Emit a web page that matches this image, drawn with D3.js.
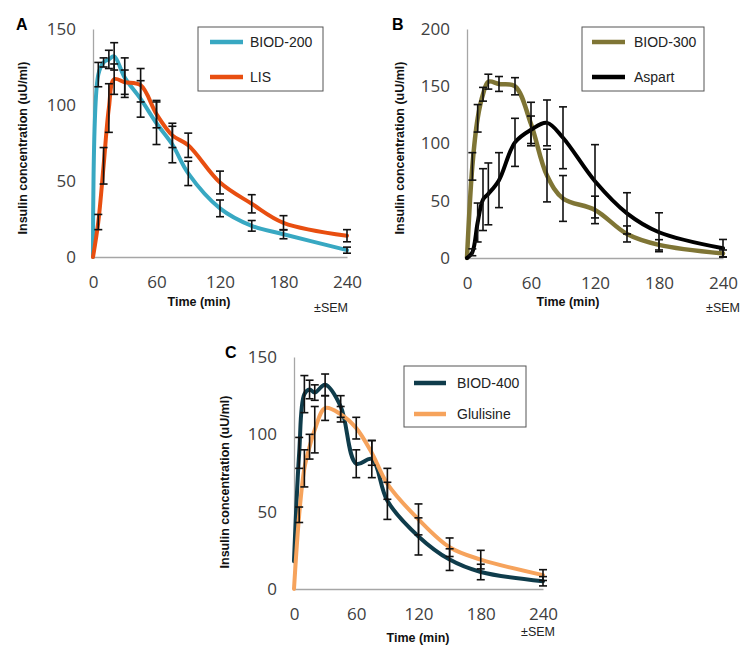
<!DOCTYPE html>
<html><head><meta charset="utf-8">
<script src="https://cdn.jsdelivr.net/npm/d3@7"></script>
<style>body{margin:0;background:#fff}</style>
</head><body>
<svg id="chart" width="748" height="657"></svg>
<script>
// ---------- data ----------
const times = [0,5,10,15,20,30,45,60,75,90,120,150,180,240];
const xTicks = [0,60,120,180,240];
const yTicksA = [0,50,100,150];
const yTicksB = [0,50,100,150,200];
const yTicksC = [0,50,100,150];

// Panel A
const biod200Mean = [0,120,128,130,132,118,104,88,74,55,32,20.5,15,4.5];
const biod200Sem  = [0,8,3,6,9,13,12,14,12,8,5.5,3.5,3,2];
const lisMean     = [0,23,60,98,117,115,113,94,80,73.5,49,35,22.5,14];
const lisSem      = [0,5,12,16,10,8,11,9,8,8,7.5,6,4.7,4];
// Panel B
const biod300Mean = [0,80,122,143,154,152,150,117,72,52,42,21,11.5,4];
const biod300Sem  = [0,12,12,6,6.5,6.5,7.5,19,23,20,12,7,4.5,3];
const aspartMean  = [0,5,31,51,56,68,101,112,118,105,67,39,22.5,8.5];
const aspartSem   = [0,3,17,27,27,24,21,12,20,27,32,18,17,7.7];
// Panel C
const biod400Mean   = [18,88,126,129,127,132,118,81,84,57,34,19,11,5];
const biod400Sem    = [0,10,12,6,5,7,7,9,12,12,12,7,5,3];
const glulisineMean = [0,48,78,92,103,117,113,104,88,68,45,27,19,9];
const glulisineSem  = [0,5,12,8,15,8,5,7,8,10,10,6,6,3.5];

// ---------- drawing ----------
const svg = d3.select("#chart");
const sans = "Liberation Sans, Arial, sans-serif";
const tickFont = "Open Sans, sans-serif";

function panel(cfg){
  const g = svg.append("g");
  const x = d3.scaleLinear().domain([0,240]).range([cfg.x0, cfg.x1]);
  const y = d3.scaleLinear().domain([0,cfg.ymax]).range([cfg.yb, cfg.yt]);

  const xa = g.append("g").attr("transform",`translate(0,${cfg.yb})`)
    .call(d3.axisBottom(x).tickValues(xTicks).tickSize(0).tickSizeOuter(0).tickPadding(19));
  const ya = g.append("g").attr("transform",`translate(${cfg.x0},0)`)
    .call(d3.axisLeft(y).tickValues(cfg.yTicks).tickSize(0).tickSizeOuter(0).tickPadding(17));
  [xa,ya].forEach(a=>{
    a.select(".domain").attr("stroke","#a6a6a6").attr("stroke-width",1.3);
    a.selectAll("text").attr("font-family",tickFont).attr("font-size",17).attr("fill","#404040");
  });

  const line = d3.line().x(d=>x(d.t)).y(d=>y(d.v)).curve(d3.curveCatmullRom.alpha(0.5));
  cfg.series.forEach(s=>{
    const pts = times.map((t,i)=>({t, v:s.mean[i], e:s.sem[i]}));
    g.append("path").datum(pts).attr("d",line).attr("fill","none")
      .attr("stroke",s.color).attr("stroke-width",s.w||4).attr("stroke-linejoin","round").attr("stroke-linecap","round");
  });
  cfg.series.forEach(s=>{
    const pts = times.map((t,i)=>({t, v:s.mean[i], e:s.sem[i]})).filter(d=>d.e>0);
    const eb = g.append("g").attr("stroke","#111").attr("stroke-width",1.6);
    pts.forEach(d=>{
      const cx = x(d.t), top = y(d.v+d.e), bot = y(Math.max(0,d.v-d.e));
      eb.append("line").attr("x1",cx).attr("x2",cx).attr("y1",top).attr("y2",bot);
      eb.append("line").attr("x1",cx-4).attr("x2",cx+4).attr("y1",top).attr("y2",top);
      eb.append("line").attr("x1",cx-4).attr("x2",cx+4).attr("y1",bot).attr("y2",bot);
    });
  });

  const L = cfg.legend;
  g.append("rect").attr("x",L.x).attr("y",L.y).attr("width",L.w).attr("height",L.h)
    .attr("fill","#fff").attr("stroke","#555").attr("stroke-width",1);
  cfg.series.forEach((s,i)=>{
    const ly = L.rows[i];
    g.append("line").attr("x1",L.lx0).attr("x2",L.lx1).attr("y1",ly).attr("y2",ly)
      .attr("stroke",s.color).attr("stroke-width",4.5);
    g.append("text").attr("x",L.tx).attr("y",ly).attr("dy","0.35em")
      .attr("font-family",sans).attr("font-size",14).attr("fill","#222").text(s.name);
  });

  g.append("text").attr("transform",`translate(${cfg.ytx},${cfg.yty}) rotate(-90)`)
    .attr("text-anchor","middle").attr("dy","0.35em")
    .attr("font-family",sans).attr("font-weight","bold").attr("font-size",12.5).attr("fill","#111")
    .text("Insulin concentration (uU/ml)");
  g.append("text").attr("x",cfg.xtx).attr("y",cfg.xty).attr("text-anchor","middle").attr("dy","0.35em")
    .attr("font-family",sans).attr("font-weight","bold").attr("font-size",12.5).attr("fill","#111")
    .text("Time (min)");
  g.append("text").attr("x",cfg.semx).attr("y",cfg.semy).attr("text-anchor","middle").attr("dy","0.35em")
    .attr("font-family",sans).attr("font-size",12.5).attr("fill","#222").text("±SEM");
  g.append("text").attr("x",cfg.lbx).attr("y",cfg.lby)
    .attr("font-family",sans).attr("font-weight","bold").attr("font-size",16).attr("fill","#000").text(cfg.label);
}

panel({
  label:"A", lbx:16, lby:30,
  x0:93, x1:347, yb:257, yt:29, ymax:150, yTicks:yTicksA,
  series:[
    {name:"BIOD-200", mean:biod200Mean, sem:biod200Sem, color:"#38a8c2", w:4},
    {name:"LIS", mean:lisMean, sem:lisSem, color:"#e84e10", w:4}
  ],
  legend:{x:198,y:27,w:125,h:64,rows:[42,77],lx0:210,lx1:243,tx:250},
  ytx:23, yty:148, xtx:199, xty:302, semx:331, semy:308
});
panel({
  label:"B", lbx:392, lby:30,
  x0:467, x1:723, yb:258, yt:29, ymax:200, yTicks:yTicksB,
  series:[
    {name:"BIOD-300", mean:biod300Mean, sem:biod300Sem, color:"#7f7535", w:4.5},
    {name:"Aspart", mean:aspartMean, sem:aspartSem, color:"#000000", w:4}
  ],
  legend:{x:582,y:27,w:122,h:64,rows:[42,77],lx0:592,lx1:625,tx:634},
  ytx:400, yty:148, xtx:568, xty:302, semx:723, semy:308
});
panel({
  label:"C", lbx:225, lby:358,
  x0:294, x1:543, yb:589, yt:357, ymax:150, yTicks:yTicksC,
  series:[
    {name:"BIOD-400", mean:biod400Mean, sem:biod400Sem, color:"#0f3c4b", w:4},
    {name:"Glulisine", mean:glulisineMean, sem:glulisineSem, color:"#f6a35c", w:4}
  ],
  legend:{x:404,y:366,w:122,h:61,rows:[383,414],lx0:414,lx1:446,tx:457},
  ytx:225, yty:482, xtx:418, xty:638, semx:538, semy:632
});
</script>
</body></html>
